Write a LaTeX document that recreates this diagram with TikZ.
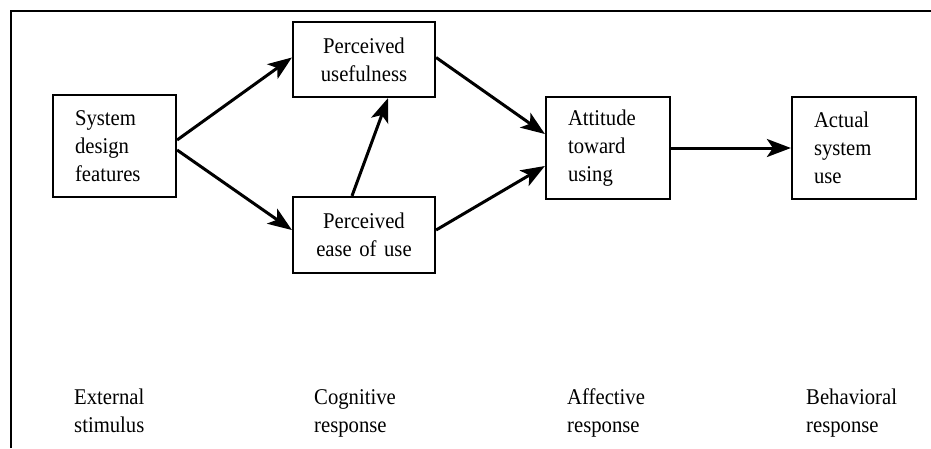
\documentclass[tikz,border=0pt]{standalone}
\usepackage{fontspec}
\setmainfont{Liberation Serif}[FakeStretch=0.92]
\usetikzlibrary{arrows.meta}
\begin{document}
\begin{tikzpicture}[x=1pt,y=-1pt,
  box/.style={draw=black, line width=2.2pt, inner ysep=0pt, font=\fontsize{22.5}{28}\selectfont},
  lbox/.style={box, align=left, inner xsep=22pt, text width=#1},
  cbox/.style={box, align=center, inner xsep=0pt, text width=#1},
  lab/.style={anchor=north west, inner sep=0pt, align=left, font=\fontsize{22.5}{28}\selectfont},
  arr/.style={line width=3pt, -{Stealth[length=24pt,width=18pt,inset=6pt]}}]
\useasboundingbox (0,0) rectangle (931,448);
\coordinate (fbl) at (11,448);
\coordinate (ftl) at (11,11);
\coordinate (ftr) at (931,11);
\draw[line width=2pt] (fbl) -- (ftl) -- (ftr);

\node[lbox=79pt, minimum width=123pt, minimum height=102pt] (sdf) at (114.5,146) {System\\design\\features};
\node[cbox=142pt, minimum width=142pt, minimum height=75pt] (pu) at (364,59.5) {Perceived\\usefulness};
\node[cbox=142pt, minimum width=142pt, minimum height=76pt] (peou) at (364,235) {Perceived\\ease of use};
\node[lbox=80pt, minimum width=124pt, minimum height=102pt] (att) at (608,148) {Attitude\\toward\\using};
\node[lbox=80pt, minimum width=124pt, minimum height=102pt] (use) at (854,148) {Actual\\system\\use};

\draw[arr] ([yshift=6pt]sdf.east) -- ([yshift=2pt]pu.west);
\draw[arr] ([yshift=-4pt]sdf.east) -- ([yshift=5pt]peou.west);
\draw[arr] ([xshift=-12pt]peou.north) -- ([xshift=24pt]pu.south);
\draw[arr] ([yshift=2pt]pu.east) -- ([yshift=14pt]att.west);
\draw[arr] ([yshift=5pt]peou.east) -- ([yshift=-18pt]att.west);
\draw[arr] (att.east) -- (use.west);

\node[lab] (l1) at (74,385) {\strut External\\stimulus};
\node[lab] (l2) at (314,385) {\strut Cognitive\\response};
\node[lab] (l3) at (567,385) {\strut Affective\\response};
\node[lab] (l4) at (806,385) {\strut Behavioral\\response};
\end{tikzpicture}
\end{document}
